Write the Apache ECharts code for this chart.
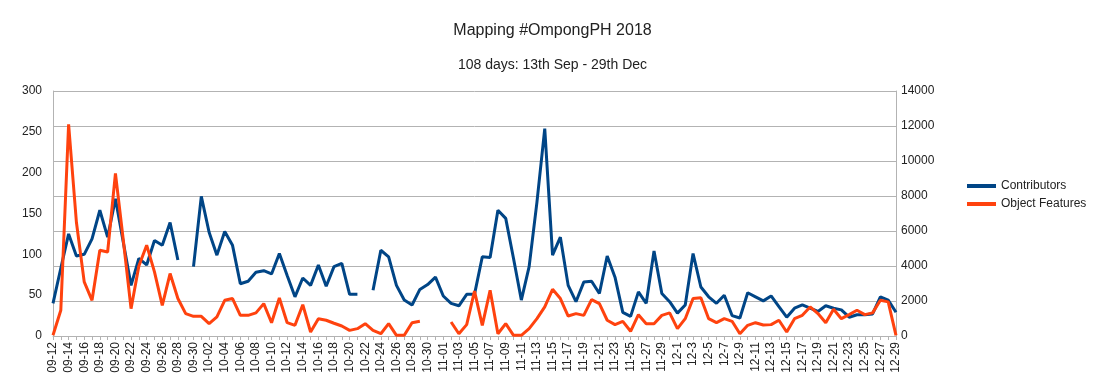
<!DOCTYPE html>
<html>
<head>
<meta charset="utf-8">
<script src="https://cdn.jsdelivr.net/npm/echarts@6/dist/echarts.min.js"></script>
<style>
html,body{margin:0;padding:0;background:#fff;}
#chart{width:1105px;height:390px;}
</style>
</head>
<body>
<div id="chart"></div>
<script>
const titleText = 'Mapping #OmpongPH 2018';
const subtitleText = '108 days: 13th Sep - 29th Dec';
const seriesNames = ['Contributors', 'Object Features'];

const categories = [
  '09-12','09-13','09-14','09-15','09-16','09-17','09-18','09-19','09-20','09-21',
  '09-22','09-23','09-24','09-25','09-26','09-27','09-28','09-29','09-30',
  '10-01','10-02','10-03','10-04','10-05','10-06','10-07','10-08','10-09','10-10',
  '10-11','10-12','10-13','10-14','10-15','10-16','10-17','10-18','10-19','10-20',
  '10-21','10-22','10-23','10-24','10-25','10-26','10-27','10-28','10-29','10-30','10-31',
  '11-01','11-02','11-03','11-04','11-05','11-06','11-07','11-08','11-09','11-10',
  '11-11','11-12','11-13','11-14','11-15','11-16','11-17','11-18','11-19','11-20',
  '11-21','11-22','11-23','11-24','11-25','11-26','11-27','11-28','11-29','11-30',
  '12-1','12-2','12-3','12-4','12-5','12-6','12-7','12-8','12-9','12-10',
  '12-11','12-12','12-13','12-14','12-15','12-16','12-17','12-18','12-19','12-20',
  '12-21','12-22','12-23','12-24','12-25','12-26','12-27','12-28','12-29'
];

const contributors = [
  40, 83, 125, 98, 100, 119, 154, 121, 168, 115,
  62, 95, 87, 117, 111, 139, 93, null, 85,
  171, 127, 99, 128, 111, 64, 67, 78, 80, 76,
  101, 74, 48, 71, 62, 87, 61, 85, 89, 51,
  51, null, 56, 105, 97, 62, 44, 38, 57, 63, 72,
  49, 40, 37, 51, 51, 97, 96, 154, 144, 95,
  44, 85, 164, 254, 99, 121, 62, 42, 66, 67,
  52, 98, 72, 29, 24, 54, 40, 104, 52, 42,
  28, 38, 101, 60, 48, 40, 50, 25, 22, 53,
  48, 43, 49, 36, 23, 34, 38, 34, 30, 37,
  34, 32, 23, 26, 26, 27, 48, 44, 29
];

const objectFeatures = [
  40, 1470, 12100, 6500, 3090, 2040, 4900, 4800, 9290, 5500,
  1560, 4000, 5190, 3660, 1750, 3570, 2140, 1280, 1125,
  1125, 705, 1090, 2040, 2140, 1180, 1180, 1320, 1850, 760,
  2170, 760, 610, 1790, 230, 990, 900, 730, 570, 320,
  420, 705, 320, 130, 705, 40, 40, 760, 840, null, null,
  null, 800, 130, 650, 2560, 610, 2610, 130, 705, 40,
  40, 420, 990, 1660, 2670, 2140, 1140, 1280, 1180, 2080,
  1850, 900, 650, 840, 270, 1220, 705, 705, 1180, 1320,
  420, 990, 2140, 2190, 990, 760, 990, 840, 130, 610,
  760, 630, 650, 900, 230, 990, 1180, 1660, 1280, 760,
  1530, 990, 1220, 1470, 1220, 1320, 2040, 1950, 40
];

const leftTicks = {min: 0, max: 300, interval: 50};
const rightTicks = {min: 0, max: 14000, interval: 2000};

const FONT = '"Liberation Sans", Arial, sans-serif';
const GRID_COLOR = '#b3b3b3';
const TEXT_COLOR = '#222';

const chart = echarts.init(document.getElementById('chart'), null, {renderer: 'canvas'});
chart.setOption({
  animation: false,
  backgroundColor: '#fff',
  textStyle: {fontFamily: FONT},
  title: [
    {text: titleText, left: 'center', top: 18,
     textStyle: {fontFamily: FONT, fontSize: 16, fontWeight: 'normal', color: TEXT_COLOR}},
    {text: subtitleText, left: 'center', top: 53,
     textStyle: {fontFamily: FONT, fontSize: 14, fontWeight: 'normal', color: TEXT_COLOR}}
  ],
  legend: {
    orient: 'vertical', left: 962, top: 175,
    itemWidth: 29, itemHeight: 4, itemGap: 6,
    icon: 'rect',
    textStyle: {fontFamily: FONT, fontSize: 12, color: TEXT_COLOR},
    data: seriesNames
  },
  grid: {left: 53, right: 209, top: 91, bottom: 54, containLabel: false},
  xAxis: {
    type: 'category', boundaryGap: false, data: categories,
    axisLine: {show: true, lineStyle: {color: GRID_COLOR}},
    axisTick: {show: true, interval: 0, length: 4, lineStyle: {color: GRID_COLOR}},
    axisLabel: {interval: 1, rotate: 90, fontFamily: FONT, fontSize: 12, color: TEXT_COLOR, margin: 6},
    splitLine: {show: false}
  },
  yAxis: [
    {type: 'value', position: 'left', min: leftTicks.min, max: leftTicks.max, interval: leftTicks.interval,
     axisLine: {show: true, lineStyle: {color: GRID_COLOR}},
     axisTick: {show: false},
     splitLine: {show: false},
     axisLabel: {fontFamily: FONT, fontSize: 12, color: TEXT_COLOR, margin: 11}},
    {type: 'value', position: 'right', min: rightTicks.min, max: rightTicks.max, interval: rightTicks.interval,
     axisLine: {show: true, lineStyle: {color: GRID_COLOR}},
     axisTick: {show: false},
     splitLine: {show: true, lineStyle: {color: GRID_COLOR, width: 1}},
     axisLabel: {fontFamily: FONT, fontSize: 12, color: TEXT_COLOR, margin: 5,
                 formatter: function (v) { return String(v); }}}
  ],
  series: [
    {name: seriesNames[0], type: 'line', yAxisIndex: 0, data: contributors,
     showSymbol: false, connectNulls: false, color: '#004586',
     lineStyle: {width: 3, color: '#004586'}},
    {name: seriesNames[1], type: 'line', yAxisIndex: 1, data: objectFeatures,
     showSymbol: false, connectNulls: false, color: '#ff420e',
     lineStyle: {width: 3, color: '#ff420e'}}
  ]
});
</script>
</body>
</html>
